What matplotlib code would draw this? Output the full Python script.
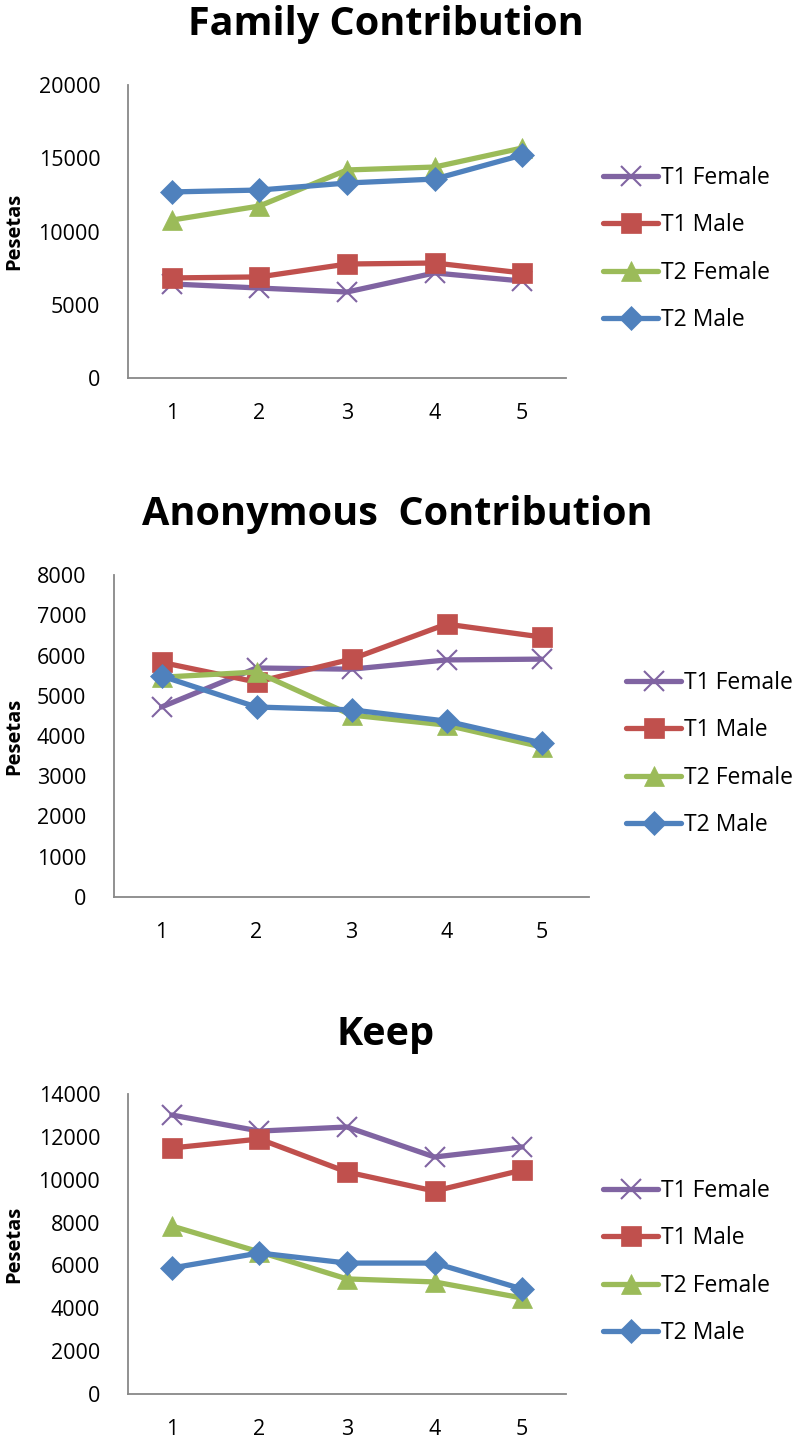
import matplotlib
matplotlib.use("Agg")
import matplotlib.pyplot as plt

plt.rcParams['font.family'] = ['Open Sans', 'DejaVu Sans']

rounds = [1, 2, 3, 4, 5]
series = ["T1 Female", "T1 Male", "T2 Female", "T2 Male"]
colors = ["#8064A2", "#C0504D", "#9BBB59", "#4F81BD"]
markers = ["x", "s", "^", "D"]
msizes = [14, 14, 14, 12]

family_t1f = [6420, 6140, 5870, 7170, 6620]
family_t1m = [6830, 6900, 7780, 7850, 7170]
family_t2f = [10780, 11740, 14200, 14400, 15700]
family_t2m = [12700, 12830, 13310, 13580, 15220]

anon_t1f = [4720, 5690, 5660, 5890, 5910]
anon_t1m = [5830, 5340, 5910, 6780, 6460]
anon_t2f = [5460, 5590, 4520, 4270, 3730]
anon_t2m = [5490, 4720, 4650, 4370, 3830]

keep_t1f = [13020, 12270, 12460, 11060, 11530]
keep_t1m = [11480, 11900, 10360, 9470, 10450]
keep_t2f = [7840, 6630, 5370, 5230, 4480]
keep_t2m = [5880, 6580, 6110, 6110, 4900]

W, H = 797, 1444
fig = plt.figure(figsize=(W / 100, H / 100), dpi=100)

panels = [
    dict(title="Family Contribution", data=[family_t1f, family_t1m, family_t2f, family_t2m],
         ymax=20000, step=5000, box=(128, 85, 566, 378), ttl=(386, 24),
         leg=(603, 249)),
    dict(title="Anonymous  Contribution", data=[anon_t1f, anon_t1m, anon_t2f, anon_t2m],
         ymax=8000, step=1000, box=(114, 575, 589, 897), ttl=(397, 515),
         leg=(626, 754)),
    dict(title="Keep", data=[keep_t1f, keep_t1m, keep_t2f, keep_t2m],
         ymax=14000, step=2000, box=(128, 1094, 566, 1394), ttl=(386, 1035),
         leg=(603, 1262)),
]

for p in panels:
    x0, y0, x1, y1 = p["box"]
    ax = fig.add_axes([x0 / W, 1 - y1 / H, (x1 - x0) / W, (y1 - y0) / H])
    for vals, name, c, m, ms in zip(p["data"], series, colors, markers, msizes):
        ax.plot(rounds, vals, color=c, lw=3.8, marker=m, markersize=ms,
                markeredgewidth=1.5 if m == "x" else 0.5, markeredgecolor=c,
                label=name, solid_capstyle="round")
    ax.set_xlim(0.5, 5.5)
    ax.set_ylim(0, p["ymax"])
    ax.set_xticks(rounds)
    ax.set_yticks(range(0, p["ymax"] + 1, p["step"]))
    ax.tick_params(length=0, labelsize=15.5)
    ax.tick_params(axis="y", pad=20)
    ax.tick_params(axis="x", pad=18)
    for s in ["top", "right"]:
        ax.spines[s].set_visible(False)
    for s in ["left", "bottom"]:
        ax.spines[s].set_color("#888888")
        ax.spines[s].set_linewidth(1.3)
    ax.set_ylabel("Pesetas", fontsize=14.5, fontweight="bold")
    ax.yaxis.set_label_coords((24 - x0) / (x1 - x0), 0.5)
    fig.text(p["ttl"][0] / W, 1 - p["ttl"][1] / H, p["title"], fontsize=28.5,
             fontweight="bold", ha="center", va="center")
    lx, ly = p["leg"]
    ax.legend(loc="center left", bbox_to_anchor=(lx / W, 1 - ly / H),
              bbox_transform=fig.transFigure, frameon=False, fontsize=16.5,
              handlelength=2.4, handletextpad=0.15, labelspacing=1.02,
              borderpad=0, borderaxespad=0)

fig.savefig("out.png", dpi=100)
